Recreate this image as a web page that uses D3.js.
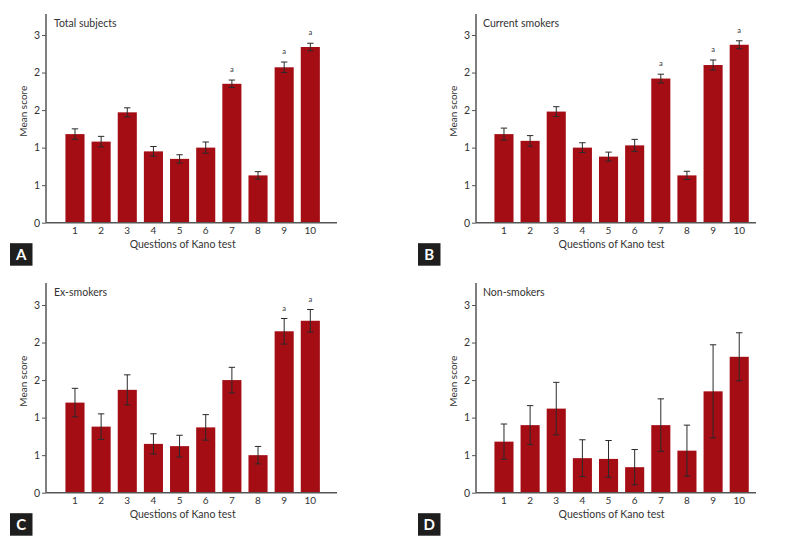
<!DOCTYPE html>
<html>
<head>
<meta charset="utf-8">
<script src="https://cdn.jsdelivr.net/npm/d3@7"></script>
<style>
  html, body { margin: 0; padding: 0; background: #fff; }
  svg { display: block; }
  text { font-family: Lato, "Open Sans", sans-serif; fill: #333; }
</style>
</head>
<body>
<svg id="chart" width="791" height="538"></svg>
<script>
// ---- data ----
const questions = [1, 2, 3, 4, 5, 6, 7, 8, 9, 10];
const yTicks = [0, 0.5, 1, 1.5, 2, 2.5];
const yTickLabels = ["0", "1", "1", "2", "2", "3"];

const totalMeans = [1.18, 1.08, 1.47, 0.95, 0.85, 1.00, 1.85, 0.63, 2.07, 2.34];
const totalErr   = [0.07, 0.07, 0.06, 0.065, 0.055, 0.075, 0.05, 0.05, 0.07, 0.05];
const totalSig   = [7, 9, 10];

const currentMeans = [1.18, 1.09, 1.48, 1.00, 0.88, 1.03, 1.92, 0.63, 2.10, 2.37];
const currentErr   = [0.08, 0.07, 0.065, 0.065, 0.06, 0.08, 0.058, 0.055, 0.067, 0.053];
const currentSig   = [7, 9, 10];

const exMeans = [1.20, 0.88, 1.37, 0.65, 0.62, 0.87, 1.50, 0.50, 2.15, 2.29];
const exErr   = [0.19, 0.17, 0.20, 0.135, 0.145, 0.17, 0.17, 0.116, 0.17, 0.15];
const exSig   = [9, 10];

const nonMeans = [0.68, 0.90, 1.12, 0.46, 0.45, 0.34, 0.90, 0.56, 1.35, 1.81];
const nonErr   = [0.235, 0.26, 0.35, 0.245, 0.245, 0.235, 0.35, 0.34, 0.62, 0.32];
const nonSig   = [];

const panelTitles = ["Total subjects", "Current smokers", "Ex-smokers", "Non-smokers"];
const panelLetters = ["A", "B", "C", "D"];
const xTitle = "Questions of Kano test";
const yTitle = "Mean score";

// ---- layout ----
const panels = [
  { means: totalMeans,   err: totalErr,   sig: totalSig,   ox: 46,  base: 222.7, top: 14,  xEnd: 337, band: [61.9, 323.4],  titleX: 54,  boxX: 10 },
  { means: currentMeans, err: currentErr, sig: currentSig, ox: 476, base: 222.7, top: 14,  xEnd: 756, band: [490.9, 752.3], titleX: 483, boxX: 418 },
  { means: exMeans,      err: exErr,      sig: exSig,      ox: 46,  base: 492.7, top: 283, xEnd: 337, band: [61.9, 323.4],  titleX: 54,  boxX: 10 },
  { means: nonMeans,     err: nonErr,     sig: nonSig,     ox: 476, base: 492.7, top: 283, xEnd: 756, band: [490.9, 752.3], titleX: 483, boxX: 418 }
];

const svg = d3.select("#chart");
const barColor = "#a50d15";
const axisColor = "#555";

panels.forEach((p, pi) => {
  const g = svg.append("g");
  const y = d3.scaleLinear().domain([0, 2.5]).range([p.base, p.base - 187.7]);
  const x = d3.scaleBand().domain(questions).range(p.band).paddingInner(0.27).paddingOuter(0.135);

  // bars
  g.selectAll("rect.bar").data(questions).enter().append("rect")
    .attr("class", "bar")
    .attr("x", d => x(d))
    .attr("width", x.bandwidth())
    .attr("y", (d, i) => y(p.means[i]))
    .attr("height", (d, i) => y(0) - y(p.means[i]))
    .attr("fill", barColor);

  // error bars
  const cap = 3.2;
  const eb = g.selectAll("g.err").data(questions).enter().append("g").attr("class", "err")
    .attr("stroke", "#2a2a2a").attr("stroke-width", 1);
  eb.append("line")
    .attr("x1", d => x(d) + x.bandwidth() / 2).attr("x2", d => x(d) + x.bandwidth() / 2)
    .attr("y1", (d, i) => y(p.means[i] + p.err[i])).attr("y2", (d, i) => y(p.means[i] - p.err[i]));
  eb.append("line")
    .attr("x1", d => x(d) + x.bandwidth() / 2 - cap).attr("x2", d => x(d) + x.bandwidth() / 2 + cap)
    .attr("y1", (d, i) => y(p.means[i] + p.err[i])).attr("y2", (d, i) => y(p.means[i] + p.err[i]));
  eb.append("line")
    .attr("x1", d => x(d) + x.bandwidth() / 2 - cap).attr("x2", d => x(d) + x.bandwidth() / 2 + cap)
    .attr("y1", (d, i) => y(p.means[i] - p.err[i])).attr("y2", (d, i) => y(p.means[i] - p.err[i]));

  // significance markers
  g.selectAll("text.sig").data(p.sig).enter().append("text")
    .attr("class", "sig")
    .attr("x", d => x(d) + x.bandwidth() / 2)
    .attr("y", d => { const i = questions.indexOf(d); return y(p.means[i] + p.err[i]) - 8; })
    .attr("text-anchor", "middle")
    .attr("font-size", "7.5px")
    .text("a");

  // y axis
  const yAxis = d3.axisLeft(y).tickValues(yTicks).tickSize(4).tickPadding(2)
    .tickFormat((d, i) => yTickLabels[i]);
  const ya = g.append("g").attr("transform", `translate(${p.ox},0)`).call(yAxis);
  ya.select(".domain").remove();
  ya.selectAll(".tick line").attr("stroke", axisColor);
  ya.selectAll(".tick text").attr("font-size", "10.5px").attr("fill", "#333")
    .attr("font-family", "Lato, 'Open Sans', sans-serif");
  g.append("line").attr("x1", p.ox).attr("x2", p.ox).attr("y1", p.top).attr("y2", p.base)
    .attr("stroke", axisColor).attr("stroke-width", 1.5);

  // x axis
  const xAxis = d3.axisBottom(x).tickSize(0).tickPadding(4);
  const xa = g.append("g").attr("transform", `translate(0,${p.base})`).call(xAxis);
  xa.select(".domain").remove();
  xa.selectAll(".tick text").attr("font-size", "10px").attr("fill", "#333")
    .attr("font-family", "Lato, 'Open Sans', sans-serif");
  g.append("line").attr("x1", p.ox).attr("x2", p.xEnd).attr("y1", p.base).attr("y2", p.base)
    .attr("stroke", axisColor).attr("stroke-width", 1.5);

  // titles
  g.append("text").attr("x", p.titleX).attr("y", p.top + 13)
    .attr("font-size", "10.5px").text(panelTitles[pi]);
  const midX = (p.band[0] + p.band[1]) / 2 - 10;
  g.append("text").attr("x", midX).attr("y", p.base + 25)
    .attr("text-anchor", "middle").attr("font-size", "10.5px").text(xTitle);
  g.append("text")
    .attr("transform", `translate(${p.ox - 19},${p.base - 111.5}) rotate(-90)`)
    .attr("text-anchor", "middle").attr("font-size", "10px").text(yTitle);

  // panel letter box
  g.append("rect").attr("x", p.boxX).attr("y", p.base + 20.5).attr("width", 22.5).attr("height", 22.5)
    .attr("fill", "#1e1e1e");
  g.append("text").attr("x", p.boxX + 11.25).attr("y", p.base + 37.5)
    .attr("text-anchor", "middle").attr("font-size", "15px").attr("font-weight", "bold")
    .style("fill", "#fff").text(panelLetters[pi]);
});
</script>
</body>
</html>
